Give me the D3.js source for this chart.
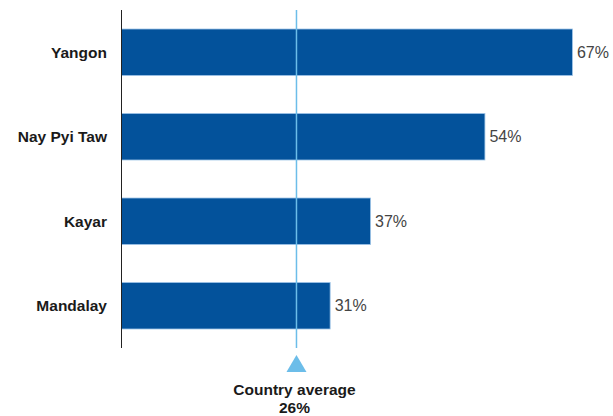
<!DOCTYPE html>
<html><head><meta charset="utf-8">
<script src="https://cdn.jsdelivr.net/npm/d3@7"></script>
<style>body{margin:0;background:#fff}svg{display:block}</style>
</head><body>
<svg id="c" width="613" height="416"></svg>
<script>
const categories = ["Yangon", "Nay Pyi Taw", "Kayar", "Mandalay"];
const values = [67, 54, 37, 31];
const averageValue = 26;
const averageLabel = "Country average";

const svg = d3.select("#c");
const x = d3.scaleLinear().domain([0, 100]).range([121.5, 794.5]);
const y = d3.scaleBand().domain(categories).range([10, 348]).paddingInner(0.45).paddingOuter(0.225);
const font = "'Liberation Sans', Arial, Helvetica, sans-serif";

svg.selectAll("rect.bar").data(categories).join("rect")
  .attr("class", "bar")
  .attr("x", x(0)).attr("y", d => y(d))
  .attr("width", (d, i) => x(values[i]) - x(0))
  .attr("height", y.bandwidth())
  .attr("fill", "#03529b").attr("stroke", "#9cc3e6").attr("stroke-width", 0.8);

svg.append("line").attr("x1", x(0)).attr("x2", x(0)).attr("y1", 10).attr("y2", 348)
  .attr("stroke", "#222").attr("stroke-width", 1);

svg.selectAll("text.cat").data(categories).join("text")
  .attr("class", "cat")
  .attr("x", 107).attr("y", d => y(d) + y.bandwidth() / 2 + 5.5)
  .attr("text-anchor", "end").attr("font-family", font).attr("font-weight", "bold")
  .attr("font-size", 15.5).attr("fill", "#1a1a1a").text(d => d);

svg.selectAll("text.val").data(categories).join("text")
  .attr("class", "val")
  .attr("x", (d, i) => x(values[i]) + 4.5).attr("y", d => y(d) + y.bandwidth() / 2 + 5.5)
  .attr("font-family", font).attr("font-size", 16).attr("fill", "#444")
  .text((d, i) => values[i] + "%");

const ax = x(averageValue);
svg.append("line").attr("x1", ax).attr("x2", ax).attr("y1", 10).attr("y2", 348)
  .attr("stroke", "#6cbde9").attr("stroke-width", 1.5);
svg.append("path").attr("d", `M${ax},355 L${ax + 10},372 L${ax - 10},372 Z`).attr("fill", "#6cbde9");
svg.append("text").attr("x", ax - 2).attr("y", 395).attr("text-anchor", "middle")
  .attr("font-family", font).attr("font-weight", "bold").attr("font-size", 15.5).attr("fill", "#1a1a1a")
  .text(averageLabel);
svg.append("text").attr("x", ax - 2).attr("y", 413).attr("text-anchor", "middle")
  .attr("font-family", font).attr("font-weight", "bold").attr("font-size", 15.5).attr("fill", "#1a1a1a")
  .text(averageValue + "%");
</script>
</body></html>
